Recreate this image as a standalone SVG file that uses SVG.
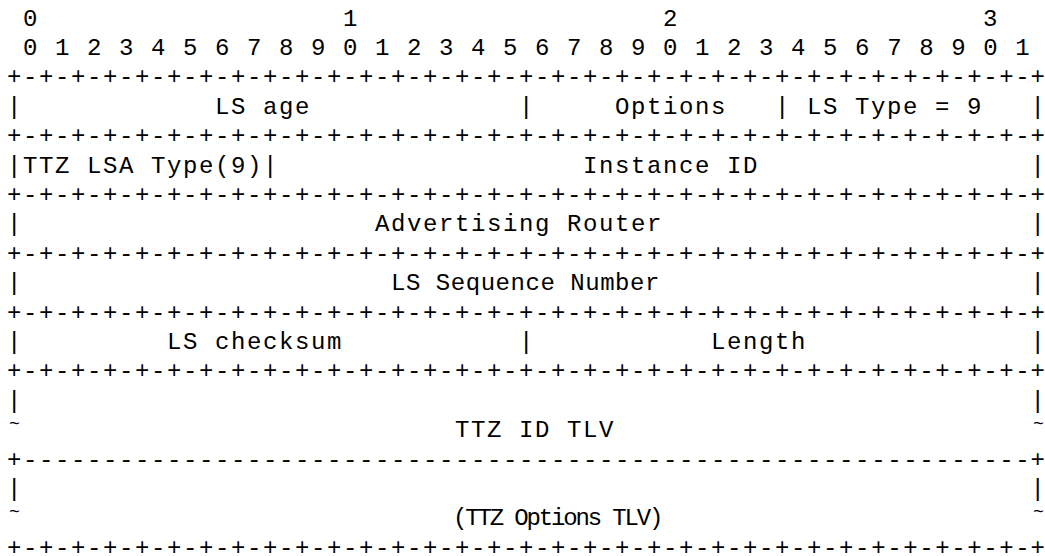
<svg xmlns="http://www.w3.org/2000/svg" width="1045" height="556" viewBox="0 0 1045 556">
<style>
text{font-family:"Liberation Mono","DejaVu Sans Mono",monospace;font-size:24px;letter-spacing:1.6px;fill:#000;white-space:pre}
.e{letter-spacing:0}
.t{font-size:18px;letter-spacing:0}
</style>
<rect width="1045" height="556" fill="#fff"/>
<g id="ruler">
<text x="23" y="25.5">0</text>
<text x="343" y="25.5">1</text>
<text x="663" y="25.5">2</text>
<text x="983" y="25.5">3</text>
<text x="23" y="54.9">0 1 2 3 4 5 6 7 8 9 0 1 2 3 4 5 6 7 8 9 0 1 2 3 4 5 6 7 8 9 0 1</text>
</g>
<g id="connectors">
<text x="7" y="84.3">+-+-+-+-+-+-+-+-+-+-+-+-+-+-+-+-+-+-+-+-+-+-+-+-+-+-+-+-+-+-+-+-</text><text class="e" x="1030.6" y="84.3">+</text>
<text x="7" y="113.7">|</text><text x="519" y="113.7">|</text><text x="775" y="113.7">|</text><text class="e" x="1030.6" y="113.7">|</text>
<text x="7" y="143.1">+-+-+-+-+-+-+-+-+-+-+-+-+-+-+-+-+-+-+-+-+-+-+-+-+-+-+-+-+-+-+-+-</text><text class="e" x="1030.6" y="143.1">+</text>
<text x="7" y="172.5">|</text><text x="263" y="172.5">|</text><text class="e" x="1030.6" y="172.5">|</text>
<text x="7" y="201.9">+-+-+-+-+-+-+-+-+-+-+-+-+-+-+-+-+-+-+-+-+-+-+-+-+-+-+-+-+-+-+-+-</text><text class="e" x="1030.6" y="201.9">+</text>
<text x="7" y="231.3">|</text><text class="e" x="1030.6" y="231.3">|</text>
<text x="7" y="260.7">+-+-+-+-+-+-+-+-+-+-+-+-+-+-+-+-+-+-+-+-+-+-+-+-+-+-+-+-+-+-+-+-</text><text class="e" x="1030.6" y="260.7">+</text>
<text x="7" y="290.1">|</text><text class="e" x="1030.6" y="290.1">|</text>
<text x="7" y="319.5">+-+-+-+-+-+-+-+-+-+-+-+-+-+-+-+-+-+-+-+-+-+-+-+-+-+-+-+-+-+-+-+-</text><text class="e" x="1030.6" y="319.5">+</text>
<text x="7" y="348.9">|</text><text x="519" y="348.9">|</text><text class="e" x="1030.6" y="348.9">|</text>
<text x="7" y="378.3">+-+-+-+-+-+-+-+-+-+-+-+-+-+-+-+-+-+-+-+-+-+-+-+-+-+-+-+-+-+-+-+-</text><text class="e" x="1030.6" y="378.3">+</text>
<text x="7" y="407.7">|</text><text class="e" x="1030.6" y="407.7">|</text>
<text class="t" x="9" y="428.5">~</text><text class="t" x="1033" y="428.5">~</text>
<text x="7" y="466.5">+---------------------------------------------------------------</text><text class="e" x="1030.6" y="466.5">+</text>
<text x="7" y="495.9">|</text><text class="e" x="1030.6" y="495.9">|</text>
<text class="t" x="9" y="516.5">~</text><text class="t" x="1033" y="516.5">~</text>
<text x="7" y="554.7">+-+-+-+-+-+-+-+-+-+-+-+-+-+-+-+-+-+-+-+-+-+-+-+-+-+-+-+-+-+-+-+-</text><text class="e" x="1030.6" y="554.7">+</text>
</g>
<g id="ls-age"><text x="215" y="113.7">LS age</text></g>
<g id="options"><text x="615" y="113.7">Options</text></g>
<g id="ls-type"><text x="807" y="113.7">LS Type = 9</text></g>
<g id="ttz-lsa-type"><text x="23" y="172.5">TTZ LSA Type(9)</text></g>
<g id="instance-id"><text x="583" y="172.5">Instance ID</text></g>
<g id="advertising-router"><text x="375" y="231.3">Advertising Router</text></g>
<g id="ls-sequence-number"><text x="391" y="290.1" textLength="270" lengthAdjust="spacing">LS Sequence Number</text></g>
<g id="ls-checksum"><text x="167" y="348.9">LS checksum</text></g>
<g id="length"><text x="711" y="348.9">Length</text></g>
<g id="ttz-id-tlv"><text x="455" y="437.1">TTZ ID TLV</text></g>
<g id="ttz-options-tlv"><text x="453" y="525.3" textLength="212" lengthAdjust="spacing">(TTZ Options TLV)</text></g>
</svg>
